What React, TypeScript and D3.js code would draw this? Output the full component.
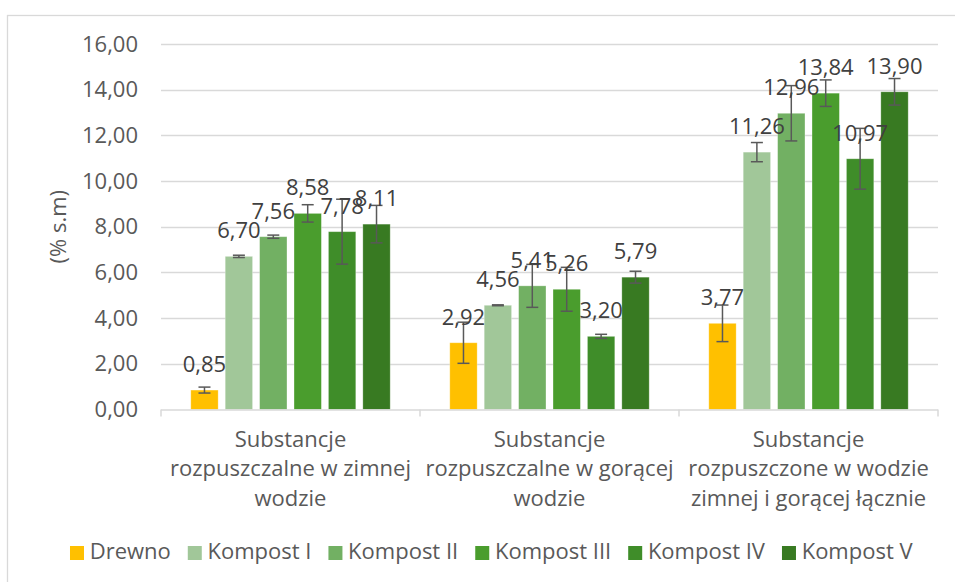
import React, { useEffect, useRef } from "react";
import * as d3 from "d3";

const W = 955;
const H = 582;

const categoryLines: string[][] = [
  ["Substancje", "rozpuszczalne w zimnej", "wodzie"],
  ["Substancje", "rozpuszczalne w gorącej", "wodzie"],
  ["Substancje", "rozpuszczone w wodzie", "zimnej i gorącej łącznie"],
];

const seriesNames = ["Drewno", "Kompost I", "Kompost II", "Kompost III", "Kompost IV", "Kompost V"];
const seriesColors = ["#FFC000", "#A1C799", "#72B063", "#4A9D2D", "#3F8D29", "#387A22"];

const drewno = [0.85, 2.92, 3.77];
const kompostI = [6.7, 4.56, 11.26];
const kompostII = [7.56, 5.41, 12.96];
const kompostIII = [8.58, 5.26, 13.84];
const kompostIV = [7.78, 3.2, 10.97];
const kompostV = [8.11, 5.79, 13.9];

const drewnoErr = [0.13, 0.9, 0.8];
const kompostIErr = [0.05, 0.02, 0.42];
const kompostIIErr = [0.07, 0.94, 1.21];
const kompostIIIErr = [0.38, 0.96, 0.58];
const kompostIVErr = [1.42, 0.09, 1.33];
const kompostVErr = [0.82, 0.26, 0.58];

const yTicks = [0, 2, 4, 6, 8, 10, 12, 14, 16];
const yTitle = "(% s.m)";

const seriesValues = [drewno, kompostI, kompostII, kompostIII, kompostIV, kompostV];
const seriesErrors = [drewnoErr, kompostIErr, kompostIIErr, kompostIIIErr, kompostIVErr, kompostVErr];

const FONT = "'Open Sans', sans-serif";
const FS = 22;
const TXT = "#595959";
const LBL = "#404040";
const GRID = "#d9d9d9";

const fmt = (v: number) => d3.format(".2f")(v).replace(".", ",");

export default function App() {
  const ref = useRef<SVGSVGElement | null>(null);

  useEffect(() => {
    const svg = d3.select(ref.current);
    svg.selectAll("*").remove();

    const left = 161, right = 938, top = 43.8, bottom = 409.5;

    // outer border
    svg.append("rect").attr("x", 7.5).attr("y", 15.5).attr("width", 2000).attr("height", 2000)
      .attr("fill", "white").attr("stroke", GRID).attr("stroke-width", 1.3);

    const y = d3.scaleLinear().domain([0, 16]).range([bottom, top]);
    const x0 = d3.scaleBand<number>().domain(categoryLines.map((_, i) => i)).range([left, right]).padding(0);
    const outer = 29.8;
    const x1 = d3.scaleBand<number>().domain(seriesNames.map((_, i) => i))
      .range([outer, x0.bandwidth() - outer]).paddingInner(0.205).paddingOuter(0);

    // gridlines
    svg.append("g").selectAll("line").data(yTicks.filter(t => t > 0)).join("line")
      .attr("x1", left).attr("x2", right)
      .attr("y1", d => Math.round(y(d)) + 0.5).attr("y2", d => Math.round(y(d)) + 0.5)
      .attr("stroke", GRID).attr("stroke-width", 1.3);

    // y tick labels
    svg.append("g").selectAll("text").data(yTicks).join("text")
      .attr("x", 138).attr("y", d => y(d)).attr("dy", "0.35em")
      .attr("text-anchor", "end").attr("font-family", FONT).attr("font-size", FS).attr("fill", TXT)
      .text(d => fmt(d));

    // y title
    svg.append("text")
      .attr("transform", `translate(58.5,${(top + bottom) / 2}) rotate(-90)`)
      .attr("text-anchor", "middle").attr("dy", "0.35em")
      .attr("font-family", FONT).attr("font-size", FS).attr("fill", TXT)
      .text(yTitle);

    // bars
    const bars = svg.append("g");
    categoryLines.forEach((_, ci) => {
      seriesNames.forEach((_, si) => {
        const v = seriesValues[si][ci];
        const bx = (x0(ci) as number) + (x1(si) as number);
        bars.append("rect")
          .attr("x", bx).attr("y", y(v)).attr("width", x1.bandwidth()).attr("height", y(0) - y(v))
          .attr("fill", seriesColors[si]).attr("stroke", "rgba(255,255,255,0.35)").attr("stroke-width", 0.8);
      });
    });

    // x axis
    svg.append("line").attr("x1", left).attr("x2", right).attr("y1", bottom + 0.5).attr("y2", bottom + 0.5)
      .attr("stroke", GRID).attr("stroke-width", 1.5);
    const xt = [...categoryLines.map((_, i) => x0(i) as number), right];
    svg.append("g").selectAll("line").data(xt).join("line")
      .attr("x1", d => d).attr("x2", d => d).attr("y1", bottom).attr("y2", bottom + 7)
      .attr("stroke", GRID).attr("stroke-width", 1.5);

    // error bars
    const eb = svg.append("g").attr("stroke", "#595959").attr("stroke-width", 1.5);
    categoryLines.forEach((_, ci) => {
      seriesNames.forEach((_, si) => {
        const v = seriesValues[si][ci];
        const e = seriesErrors[si][ci];
        const cx = (x0(ci) as number) + (x1(si) as number) + x1.bandwidth() / 2;
        const yt = y(v + e), yb = y(v - e);
        eb.append("line").attr("x1", cx).attr("x2", cx).attr("y1", yt).attr("y2", yb);
        eb.append("line").attr("x1", cx - 6).attr("x2", cx + 6).attr("y1", yt).attr("y2", yt);
        eb.append("line").attr("x1", cx - 6).attr("x2", cx + 6).attr("y1", yb).attr("y2", yb);
      });
    });

    // data labels
    const dl = svg.append("g");
    categoryLines.forEach((_, ci) => {
      seriesNames.forEach((_, si) => {
        const v = seriesValues[si][ci];
        const cx = (x0(ci) as number) + (x1(si) as number) + x1.bandwidth() / 2;
        dl.append("text").attr("x", cx).attr("y", y(v) - 18)
          .attr("text-anchor", "middle").attr("font-family", FONT).attr("font-size", FS).attr("fill", LBL)
          .text(fmt(v));
      });
    });

    // category labels
    const cl = svg.append("g");
    categoryLines.forEach((lines, ci) => {
      const cx = (x0(ci) as number) + x0.bandwidth() / 2;
      lines.forEach((ln, li) => {
        cl.append("text").attr("x", cx).attr("y", 446.7 + li * 29.5)
          .attr("text-anchor", "middle").attr("font-family", FONT).attr("font-size", FS).attr("fill", TXT)
          .text(ln);
      });
    });

    // legend
    const lg = svg.append("g");
    const items = seriesNames.map((name, i) => {
      const g = lg.append("g");
      g.append("rect").attr("width", 14).attr("height", 14).attr("y", 546).attr("fill", seriesColors[i]);
      const t = g.append("text").attr("x", 19.7).attr("y", 559).attr("font-family", FONT)
        .attr("font-size", FS).attr("fill", TXT).text(name);
      const w = (t.node() as SVGTextElement).getComputedTextLength();
      return { g, w: 19.7 + w };
    });
    const gap = 17;
    const total = d3.sum(items, d => d.w) + gap * (items.length - 1);
    let cx = 491.3 - total / 2;
    items.forEach(it => {
      it.g.attr("transform", `translate(${cx},0)`);
      cx += it.w + gap;
    });
  }, []);

  return (
    <svg ref={ref} width={W} height={H}
      style={{ position: "absolute", left: 0, top: 0, background: "white" }} />
  );
}
